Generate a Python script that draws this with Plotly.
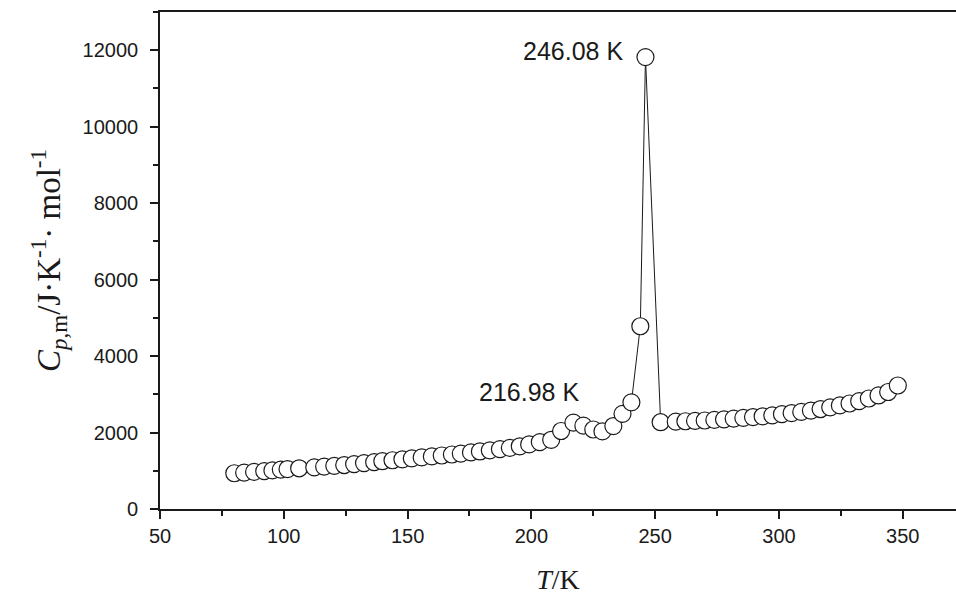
import plotly.graph_objects as go

# Temperature (K) and molar heat capacity (J K^-1 mol^-1)
T = [80.0, 84.0, 88.0, 92.1, 95.4, 98.8, 101.5, 106.2, 112.3, 116.3,
     120.4, 124.4, 128.4, 132.4, 136.5, 139.8, 143.9, 147.9, 151.7, 155.7,
     159.8, 163.8, 167.9, 171.5, 175.6, 179.2, 183.2, 187.3, 191.3, 195.3,
     199.1, 203.4, 208.0, 212.0, 216.98, 221.0, 225.0, 228.7, 233.1, 236.8,
     240.4, 244.0, 246.08, 252.2, 258.3, 262.2, 266.1, 270.0, 273.9, 277.8,
     281.7, 285.6, 289.5, 293.4, 297.3, 301.2, 305.1, 309.0, 312.9, 316.8,
     320.7, 324.6, 328.5, 332.4, 336.3, 340.2, 344.1, 348.0]
Cp = [935, 950, 970, 990, 1010, 1030, 1045, 1065, 1090, 1110,
      1130, 1150, 1175, 1200, 1225, 1250, 1275, 1300, 1325, 1350,
      1375, 1400, 1425, 1450, 1480, 1505, 1535, 1565, 1600, 1640,
      1690, 1750, 1810, 2040, 2260, 2180, 2080, 2030, 2170, 2490,
      2790, 4780, 11820, 2270, 2285, 2295, 2305, 2315, 2330, 2345,
      2365, 2385, 2405, 2425, 2450, 2480, 2510, 2540, 2575, 2615,
      2660, 2710, 2760, 2820, 2890, 2970, 3060, 3230]

peak_labels = ["246.08 K", "216.98 K"]
peak_T = [246.08, 216.98]
peak_Cp = [11820, 2260]

x_ticks = [50, 100, 150, 200, 250, 300, 350]
x_ticktext = ["50", "100", "150", "200", "250", "300", "350"]
y_ticks = [0, 2000, 4000, 6000, 8000, 10000, 12000]
y_ticktext = ["0", "2000", "4000", "6000", "8000", "10000", "12000"]

fig = go.Figure()
fig.add_trace(go.Scatter(
    x=T, y=Cp, mode="lines+markers",
    line=dict(color="#1a1a1a", width=1),
    marker=dict(symbol="circle", size=17, color="white",
                line=dict(color="#1a1a1a", width=1.2)),
    showlegend=False, cliponaxis=False))

fig.add_annotation(x=peak_T[0], y=peak_Cp[0], text=peak_labels[0],
                   showarrow=False, xanchor="right", yanchor="middle",
                   xshift=-20, yshift=6,
                   font=dict(family="Liberation Sans, Arial", size=25, color="#1a1a1a"))
fig.add_annotation(x=peak_T[1], y=peak_Cp[1], text=peak_labels[1],
                   showarrow=False, xanchor="right", yanchor="middle",
                   xshift=8, yshift=31,
                   font=dict(family="Liberation Sans, Arial", size=25, color="#1a1a1a"))

axis_common = dict(
    showline=True, linecolor="#1a1a1a", linewidth=1.6,
    ticks="outside", ticklen=8, tickwidth=1.5, tickcolor="#1a1a1a",
    showgrid=False, zeroline=False,
    tickfont=dict(family="Liberation Sans, Arial", size=20, color="#1a1a1a"),
)

fig.update_xaxes(
    range=[50, 371.5], tickvals=x_ticks, ticktext=x_ticktext, mirror=True,
    minor=dict(ticks="outside", ticklen=5, tickwidth=1.5, tickcolor="#1a1a1a", dtick=25, tick0=50),
    title=dict(text="<i>T</i>/K", standoff=24,
               font=dict(family="Liberation Serif, Times New Roman", size=28, color="#1a1a1a")),
    **axis_common)
fig.update_yaxes(
    range=[0, 13000], tickvals=y_ticks, ticktext=y_ticktext, ticklabelstandoff=8,
    minor=dict(ticks="outside", ticklen=5, tickwidth=1.5, tickcolor="#1a1a1a", dtick=1000, tick0=0),
    title=dict(text="<i>C</i><sub><i>p</i>,m</sub>/J·K<sup>-1</sup>· mol<sup>-1</sup>", standoff=12,
               font=dict(family="Liberation Serif, Times New Roman", size=33, color="#1a1a1a")),
    **axis_common)

fig.update_layout(
    width=956, height=597,
    margin=dict(l=160, r=0, t=12, b=88),
    paper_bgcolor="white", plot_bgcolor="white",
)

fig.write_html("out.html")
